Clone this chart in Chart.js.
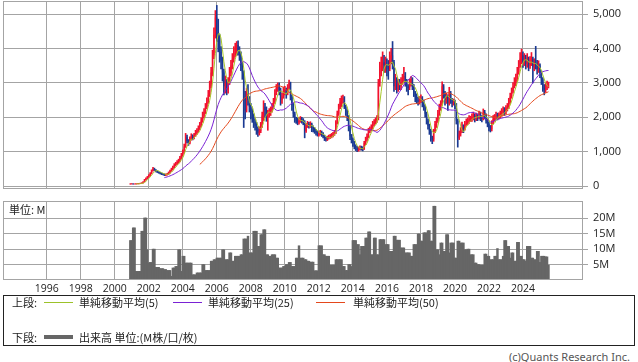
<!DOCTYPE html>
<html lang="ja">
<head>
<meta charset="utf-8">
<title>株価チャート</title>
<script src="https://cdn.jsdelivr.net/npm/chart.js@4/dist/chart.umd.min.js"></script>
<style>
  html, body { margin: 0; padding: 0; background: #fff; }
  body { width: 638px; height: 362px; position: relative; overflow: hidden;
         font-family: "Noto Sans CJK JP", "Noto Sans", sans-serif; color: #222; }
  #priceChart { position: absolute; left: 0; top: 0; }
  #volumeChart { position: absolute; left: 0; top: 195px; }
  .unit { position: absolute; left: 9px; top: 202px; font-size: 11px; line-height: 14px; }
  .legend { position: absolute; left: 3px; top: 295px; width: 630px; height: 49px;
            border: 1px solid #222; font-size: 11px; }
  .legend .row { position: absolute; left: 8px; height: 14px; line-height: 14px; white-space: nowrap; }
  .legend .row span { position: absolute; top: 0; }
  .legend .swatch { position: absolute; display: block; }
  .copy { position: absolute; right: 8px; top: 349px; font-size: 11px; color: #555;
          font-family: "Noto Sans", sans-serif; }
</style>
</head>
<body>
<canvas id="priceChart" width="638" height="192"></canvas>
<canvas id="volumeChart" width="638" height="100"></canvas>
<div class="unit">単位: M</div>

<div class="legend">
  <div class="row" style="top:-1px">
    <span style="left:0">上段:</span>
    <div class="swatch" style="left:32px;top:7px;width:29px;height:1px;background:#9cc22a"></div>
    <span style="left:67px">単純移動平均(5)</span>
    <div class="swatch" style="left:161px;top:7px;width:29px;height:1px;background:#7a22d4"></div>
    <span style="left:196px">単純移動平均(25)</span>
    <div class="swatch" style="left:304px;top:7px;width:29px;height:1px;background:#e4481c"></div>
    <span style="left:341px">単純移動平均(50)</span>
  </div>
  <div class="row" style="top:34px">
    <span style="left:0">下段:</span>
    <div class="swatch" style="left:32px;top:5px;width:29px;height:4px;background:#666"></div>
    <span style="left:67px">出来高 単位:(M株/口/枚)</span>
  </div>
</div>
<div class="copy">(c)Quants Research Inc.</div>

<script>
(function () {
  'use strict';

  // ---- Data (monthly, Dec 2000 .. Jul 2025) ----
  const START_YEAR = 2000;
  const START_MONTH = 12;

  const CLOSE = [
    60,
    62, 58, 60, 64, 68, 72, 78, 90, 120, 180, 220, 260,
    300, 360, 440, 500, 470, 430, 410, 390, 370, 350, 340, 320,
    330, 350, 390, 440, 490, 550, 610, 650, 690, 730, 820, 900,
    980, 1150, 1420, 1300, 1260, 1380, 1450, 1400, 1480, 1550, 1600, 1680,
    1760, 1900, 2050, 2150, 2300, 2450, 2650, 2900, 3300, 3800, 4400, 4900,
    4700, 4300, 3900, 3650, 3300, 2900, 3000, 2800, 3000, 3300, 3500, 3700,
    3900, 4000, 4100, 3950, 3800, 3500, 3300, 2600, 2200, 2700, 2500, 2300,
    2100, 2000, 1850, 1750, 1650, 1550, 1600, 1750, 2050, 2300, 2200, 2000,
    2100, 2150, 2200, 2300, 2450, 2700, 2850, 2950, 2800, 2500, 2600, 2750,
    2800, 2700, 2850, 3000, 2600, 2350, 2100, 1950, 1900, 1850, 1900, 1950,
    1900, 1850, 1600, 1750, 1800, 1750, 1800, 1700, 1650, 1600, 1550, 1500,
    1520, 1550, 1500, 1450, 1380, 1350, 1400, 1420, 1450, 1480, 1500, 1550,
    1850, 2100, 2300, 2450, 2500, 2550, 2300, 2150, 2000, 1700, 1450, 1350,
    1250, 1150, 1100, 1050, 1080, 1120, 1100, 1080, 1250, 1350, 1450, 1600,
    1650, 1700, 1800, 1850, 1900, 1950, 3000, 3400, 3500, 3600, 3500, 3550,
    3500, 3400, 3700, 3800, 3600, 2900, 3100, 2800, 3000, 2900, 3000, 3100,
    3200, 3000, 2900, 2850, 3000, 3100, 2900, 2700, 2600, 2500, 2450, 2500,
    2550, 2450, 2300, 2100, 1900, 1750, 1600, 1400, 1350, 1600, 1800, 1900,
    2100, 2300, 2400, 2900, 2700, 2500, 2600, 2400, 2700, 2500, 2400, 2450,
    2350, 1900, 1400, 1500, 1600, 1700, 1650, 1800, 1850, 1900, 1950, 1950,
    2000, 2050, 1950, 2050, 2000, 2100, 2000, 1950, 2150, 2050, 1900, 1800,
    1700, 1650, 1850, 1950, 2000, 2050, 2000, 2050, 2100, 2150, 2200, 2150,
    2250, 2300, 2450, 2600, 2750, 2900, 3000, 3100, 3300, 3500, 3700, 3800,
    3600, 3700, 3550, 3650, 3500, 3600, 3700, 3450, 3550, 3500, 3400, 3500,
    3300, 3100, 2850, 2800, 2900, 2950, 2950
  ];

  const HIGH = [
    70,
    70, 66, 65, 70, 74, 78, 84, 98, 130, 195, 240, 280,
    330, 390, 470, 540, 520, 480, 445, 420, 400, 380, 365, 355,
    350, 370, 410, 460, 520, 580, 650, 690, 740, 780, 860, 950,
    1050, 1220, 1530, 1480, 1350, 1430, 1520, 1490, 1530, 1620, 1670, 1750,
    1850, 1980, 2150, 2250, 2400, 2560, 2780, 3050, 3450, 3950, 4600, 5100,
    5250, 4850, 4400, 4050, 3750, 3400, 3200, 3100, 3150, 3450, 3650, 3850,
    4050, 4150, 4200, 4220, 4050, 3900, 3600, 3350, 2750, 2850, 2950, 2600,
    2400, 2250, 2100, 1950, 1850, 1720, 1720, 1850, 2150, 2480, 2400, 2300,
    2200, 2250, 2300, 2400, 2550, 2800, 2950, 3000, 3000, 2850, 2700, 2880,
    2900, 2850, 2950, 3080, 3020, 2650, 2400, 2150, 2000, 1980, 1980, 2020,
    2000, 1960, 1900, 1820, 1880, 1850, 1870, 1830, 1750, 1700, 1650, 1600,
    1580, 1620, 1600, 1550, 1480, 1420, 1450, 1480, 1500, 1530, 1560, 1620,
    1900, 2180, 2380, 2550, 2620, 2640, 2600, 2350, 2220, 2050, 1750, 1500,
    1400, 1300, 1200, 1150, 1130, 1170, 1160, 1140, 1300, 1420, 1520, 1680,
    1720, 1780, 1880, 1930, 1980, 2050, 3100, 3600, 3750, 3900, 3800, 3750,
    3700, 3650, 3900, 4000, 4200, 3650, 3250, 3150, 3100, 3100, 3150, 3250,
    3450, 3300, 3100, 2950, 3100, 3180, 3150, 2950, 2750, 2680, 2580, 2600,
    2650, 2600, 2500, 2350, 2150, 1950, 1800, 1650, 1450, 1650, 1880, 1980,
    2200, 2380, 2480, 3030, 2950, 2750, 2700, 2650, 2870, 2750, 2550, 2530,
    2500, 2400, 1950, 1600, 1700, 1860, 1780, 1880, 1950, 1980, 2050, 2030,
    2100, 2150, 2100, 2120, 2100, 2180, 2150, 2050, 2240, 2200, 2100, 1950,
    1850, 1760, 1900, 2050, 2080, 2150, 2120, 2130, 2180, 2250, 2300, 2280,
    2340, 2400, 2550, 2700, 2850, 3010, 3150, 3250, 3450, 3650, 3880, 3980,
    3900, 3850, 3800, 3850, 3750, 3760, 3880, 3750, 3700, 4060, 3650, 3640,
    3550, 3350, 3150, 2950, 3010, 3050, 3020
  ];

  const LOW = [
    50,
    55, 52, 54, 57, 60, 64, 68, 74, 85, 115, 170, 210,
    250, 290, 350, 430, 450, 410, 390, 370, 350, 330, 320, 300,
    300, 315, 335, 375, 425, 470, 530, 580, 620, 660, 700, 790,
    870, 950, 1120, 1250, 1180, 1220, 1330, 1340, 1370, 1440, 1500, 1560,
    1630, 1720, 1850, 1980, 2100, 2250, 2400, 2600, 2850, 3200, 3700, 4300,
    4200, 3900, 3600, 3400, 3050, 2650, 2700, 2650, 2700, 2950, 3200, 3400,
    3600, 3750, 3800, 3800, 3650, 3350, 3100, 1700, 1950, 2150, 2350, 2150,
    1950, 1850, 1700, 1620, 1500, 1440, 1480, 1550, 1700, 1900, 2000, 1880,
    1620, 2000, 2050, 2150, 2250, 2400, 2650, 2750, 2650, 2350, 2400, 2550,
    2650, 2550, 2650, 2800, 2500, 2200, 2000, 1850, 1820, 1780, 1800, 1850,
    1830, 1780, 1400, 1560, 1700, 1680, 1700, 1580, 1570, 1530, 1480, 1450,
    1450, 1480, 1440, 1400, 1320, 1300, 1320, 1360, 1380, 1400, 1430, 1470,
    1520, 1800, 2050, 2250, 2300, 2400, 2250, 2050, 1900, 1600, 1350, 1250,
    1150, 1080, 1030, 1000, 1010, 1040, 1040, 1020, 1060, 1200, 1300, 1400,
    1550, 1600, 1650, 1750, 1800, 1850, 1920, 2900, 3200, 3350, 3300, 3300,
    3200, 3100, 3350, 3550, 3400, 2750, 2800, 2700, 2750, 2800, 2800, 2950,
    3000, 2900, 2750, 2650, 2800, 2900, 2800, 2600, 2450, 2400, 2350, 2380,
    2420, 2300, 2200, 2000, 1800, 1650, 1500, 1300, 1230, 1300, 1550, 1700,
    1850, 2050, 2200, 2350, 2550, 2350, 2400, 2200, 2350, 2400, 2300, 2350,
    2250, 1800, 1130, 1350, 1450, 1550, 1550, 1620, 1760, 1780, 1820, 1870,
    1880, 1920, 1860, 1900, 1900, 1950, 1900, 1860, 1920, 1950, 1830, 1720,
    1600, 1570, 1600, 1800, 1880, 1930, 1920, 1950, 1980, 2030, 2080, 2050,
    2100, 2180, 2250, 2400, 2550, 2700, 2850, 2920, 3050, 3250, 3450, 3550,
    3450, 3500, 3400, 3450, 3350, 3420, 3500, 3000, 3350, 3400, 3250, 3300,
    3150, 2950, 2750, 2650, 2720, 2800, 2850
  ];

  // volume in millions
  const VOLUME = [
    12.8,
    12.8, 16.9, 16.9, 2.8, 2.8, 2.8, 2.8, 15.8, 15.8, 20.1, 20.1, 9.8,
    5.5, 5.7, 5.7, 10, 10, 4.1, 4.1, 4.1, 3.7, 3.7, 3.7, 3.4,
    3.4, 3.1, 3.1, 3.1, 1.2, 3.9, 3.9, 4.4, 4.4, 9.8, 9.8, 2.8,
    7.7, 7.7, 5.5, 5.5, 5.5, 5.5, 5.5, 1.7, 1.7, 1.7, 2.3, 2.3,
    2.3, 2.3, 5, 5, 3.1, 3.1, 3.1, 3.1, 6.1, 6.1, 6.6, 6.6,
    7.1, 7.1, 7.1, 7.1, 9.8, 9.8, 6.6, 6.6, 6.6, 8.8, 8.8, 6.1,
    6.1, 7.7, 7.7, 7.7, 7.7, 8.2, 8.2, 13.3, 13.3, 13.3, 14.2, 8.8,
    8.8, 8.8, 15.8, 15.8, 15.8, 10.9, 10.9, 14.7, 14.7, 16.3, 16.3, 8.2,
    8.2, 7.7, 7.7, 8.2, 8.2, 8.2, 7.1, 7.1, 3.9, 3.9, 3.9, 4.4,
    4.4, 5, 5, 5.7, 5.7, 4.4, 4.4, 4.4, 7.1, 7.1, 11.1, 7.1,
    7.1, 7.1, 6.6, 6.6, 6.1, 6.1, 5.8, 5.8, 5.8, 3, 3, 3,
    11.1, 11.1, 11.1, 8.2, 8.2, 7.7, 7.7, 7.7, 4.8, 4.8, 4.8, 4.8,
    6.6, 6.6, 6.6, 6.6, 6.6, 4.4, 4.4, 3.1, 3.1, 5, 5, 4.4,
    12.8, 12.8, 12.8, 11.5, 11.5, 8.2, 10.9, 10.9, 10.9, 13.6, 13.6, 15.6,
    15.6, 8.2, 8.2, 13.6, 13.6, 8.2, 8.2, 13.1, 13.1, 13.1, 13.1, 11.5,
    11.5, 11.5, 9.3, 9.3, 9.3, 14.2, 14.2, 12.9, 12.9, 12.9, 10.4, 10.4,
    10.4, 8.8, 8.8, 8.8, 8.8, 7.7, 7.7, 11.5, 11.5, 11.5, 14.9, 14.9,
    12.6, 12.6, 15.3, 15.3, 15.3, 16, 16, 12.6, 12.6, 23.9, 23.9, 9.8,
    9.8, 8.2, 12, 12, 9.3, 9.3, 14.7, 14.7, 8.8, 12, 12, 12,
    7.1, 7.1, 12.6, 12.6, 12, 12, 12, 9.8, 9.8, 10, 10, 8.2,
    8.2, 8.2, 5.5, 5.5, 5, 5, 4.8, 4.8, 4.8, 8.4, 8.4, 7.7,
    7.7, 6.6, 6.6, 6.6, 7.7, 7.7, 10.2, 6.6, 6.6, 6.6, 7.7, 12.8,
    12.8, 10.9, 10.9, 7.1, 8.8, 8.8, 6.1, 6.1, 12.2, 12.2, 7.7, 7.7,
    6.6, 6.6, 6.1, 10.9, 10.9, 10.9, 7.1, 7.1, 6.6, 6.6, 9.3, 9.3,
    5.7, 7.7, 7.7, 7.7, 7.5, 7.5, 4.8
  ];

  const YEAR_TICKS = [1996, 1998, 2000, 2002, 2004, 2006, 2008, 2010, 2012, 2014, 2016, 2018, 2020, 2022, 2024];
  const PRICE_TICKS = [0, 1000, 2000, 3000, 4000, 5000];
  const VOLUME_TICKS = [5, 10, 15, 20];
  const MA_PERIODS = [5, 25, 50];

  // ---- Colors ----
  const COLORS = {
    up: '#f2122e',
    down: '#1b3a92',
    ma: ['#a8c82a', '#7a22d4', '#e4481c'],
    volume: '#666666',
    grid: '#a4a4a4',
    text: '#222'
  };

  const X_MIN = 1993.43;
  const X_MAX = 2027.53;

  const xAt = i => START_YEAR + (START_MONTH - 1 + i) / 12;

  function sma(arr, n) {
    const out = [];
    for (let i = n - 1; i < arr.length; i++) {
      let s = 0;
      for (let k = i - n + 1; k <= i; k++) s += arr[k];
      out.push({ x: xAt(i), y: s / n });
    }
    return out;
  }

  // open = previous month's close
  const OPEN = CLOSE.map((c, i) => (i === 0 ? c : CLOSE[i - 1]));
  const candleColors = CLOSE.map((c, i) => (c >= OPEN[i] ? COLORS.up : COLORS.down));

  // ---- Plugins ----
  const boxBorder = {
    id: 'boxBorder',
    afterDraw(chart) {
      const a = chart.chartArea;
      const ctx = chart.ctx;
      ctx.save();
      ctx.strokeStyle = COLORS.grid;
      ctx.lineWidth = 1;
      ctx.strokeRect(Math.round(a.left) + 0.5, Math.round(a.top) + 0.5,
        Math.round(a.right - a.left) - 1, Math.round(a.bottom - a.top) - 1);
      ctx.restore();
    }
  };

  const noPad = s => {
    s.paddingTop = 0; s.paddingBottom = 0; s.paddingLeft = 0; s.paddingRight = 0;
  };

  const tickFont = { family: '"Open Sans", "DejaVu Sans", sans-serif', size: 11 };

  function xScale(showLabels) {
    return {
      type: 'linear',
      min: X_MIN,
      max: X_MAX,
      offset: false,
      afterBuildTicks: s => { s.ticks = YEAR_TICKS.map(v => ({ value: v })); },
      afterFit: s => { s.height = showLabels ? 15 : 0; noPad(s); },
      grid: { color: COLORS.grid, drawTicks: false, offset: false },
      border: { display: false },
      ticks: {
        display: showLabels,
        autoSkip: false,
        maxRotation: 0,
        padding: 3,
        color: COLORS.text,
        font: { family: '"Open Sans", "DejaVu Sans", sans-serif', size: 10.5 },
        callback: v => String(v)
      }
    };
  }

  function yScale(min, max, ticks, fmt) {
    return {
      position: 'right',
      min: min,
      max: max,
      afterBuildTicks: s => { s.ticks = ticks.map(v => ({ value: v })); },
      afterFit: s => { s.width = 55; noPad(s); },
      grid: { color: COLORS.grid, tickLength: 5 },
      border: { display: false },
      ticks: { padding: 5, color: COLORS.text, font: tickFont, callback: fmt }
    };
  }

  // ---- Price chart ----
  const maDatasets = MA_PERIODS.map((n, k) => ({
    type: 'line',
    label: '単純移動平均(' + n + ')',
    data: sma(CLOSE, n),
    borderColor: COLORS.ma[k],
    borderWidth: 1,
    pointRadius: 0,
    tension: 0,
    order: 0
  }));

  new Chart(document.getElementById('priceChart'), {
    type: 'bar',
    data: {
      datasets: [
        ...maDatasets,
        {
          label: 'wick',
          data: CLOSE.map((c, i) => ({ x: xAt(i), y: [LOW[i], HIGH[i]] })),
          backgroundColor: candleColors,
          barThickness: 1,
          grouped: false,
          order: 2
        },
        {
          label: 'body',
          data: CLOSE.map((c, i) => ({ x: xAt(i), y: [OPEN[i], c] })),
          backgroundColor: candleColors,
          barPercentage: 0.8,
          categoryPercentage: 1,
          grouped: false,
          order: 1
        }
      ]
    },
    options: {
      responsive: false,
      animation: false,
      layout: { padding: { left: 3, right: 0, top: 1, bottom: 3 } },
      plugins: { legend: { display: false }, tooltip: { enabled: false } },
      scales: {
        x: xScale(false),
        y: yScale(-87, 5378, PRICE_TICKS, v => v.toLocaleString('en-US'))
      }
    },
    plugins: [boxBorder]
  });

  // ---- Volume chart ----
  new Chart(document.getElementById('volumeChart'), {
    type: 'bar',
    data: {
      datasets: [{
        label: '出来高',
        data: VOLUME.map((v, i) => ({ x: xAt(i), y: v })),
        backgroundColor: COLORS.volume,
        barThickness: 1.8
      }]
    },
    options: {
      responsive: false,
      animation: false,
      layout: { padding: { left: 3, right: 0, top: 6, bottom: 0 } },
      plugins: { legend: { display: false }, tooltip: { enabled: false } },
      scales: {
        x: xScale(true),
        y: yScale(0, 25.6, VOLUME_TICKS, v => v + 'M')
      }
    },
    plugins: [boxBorder]
  });
})();
</script>
</body>
</html>
